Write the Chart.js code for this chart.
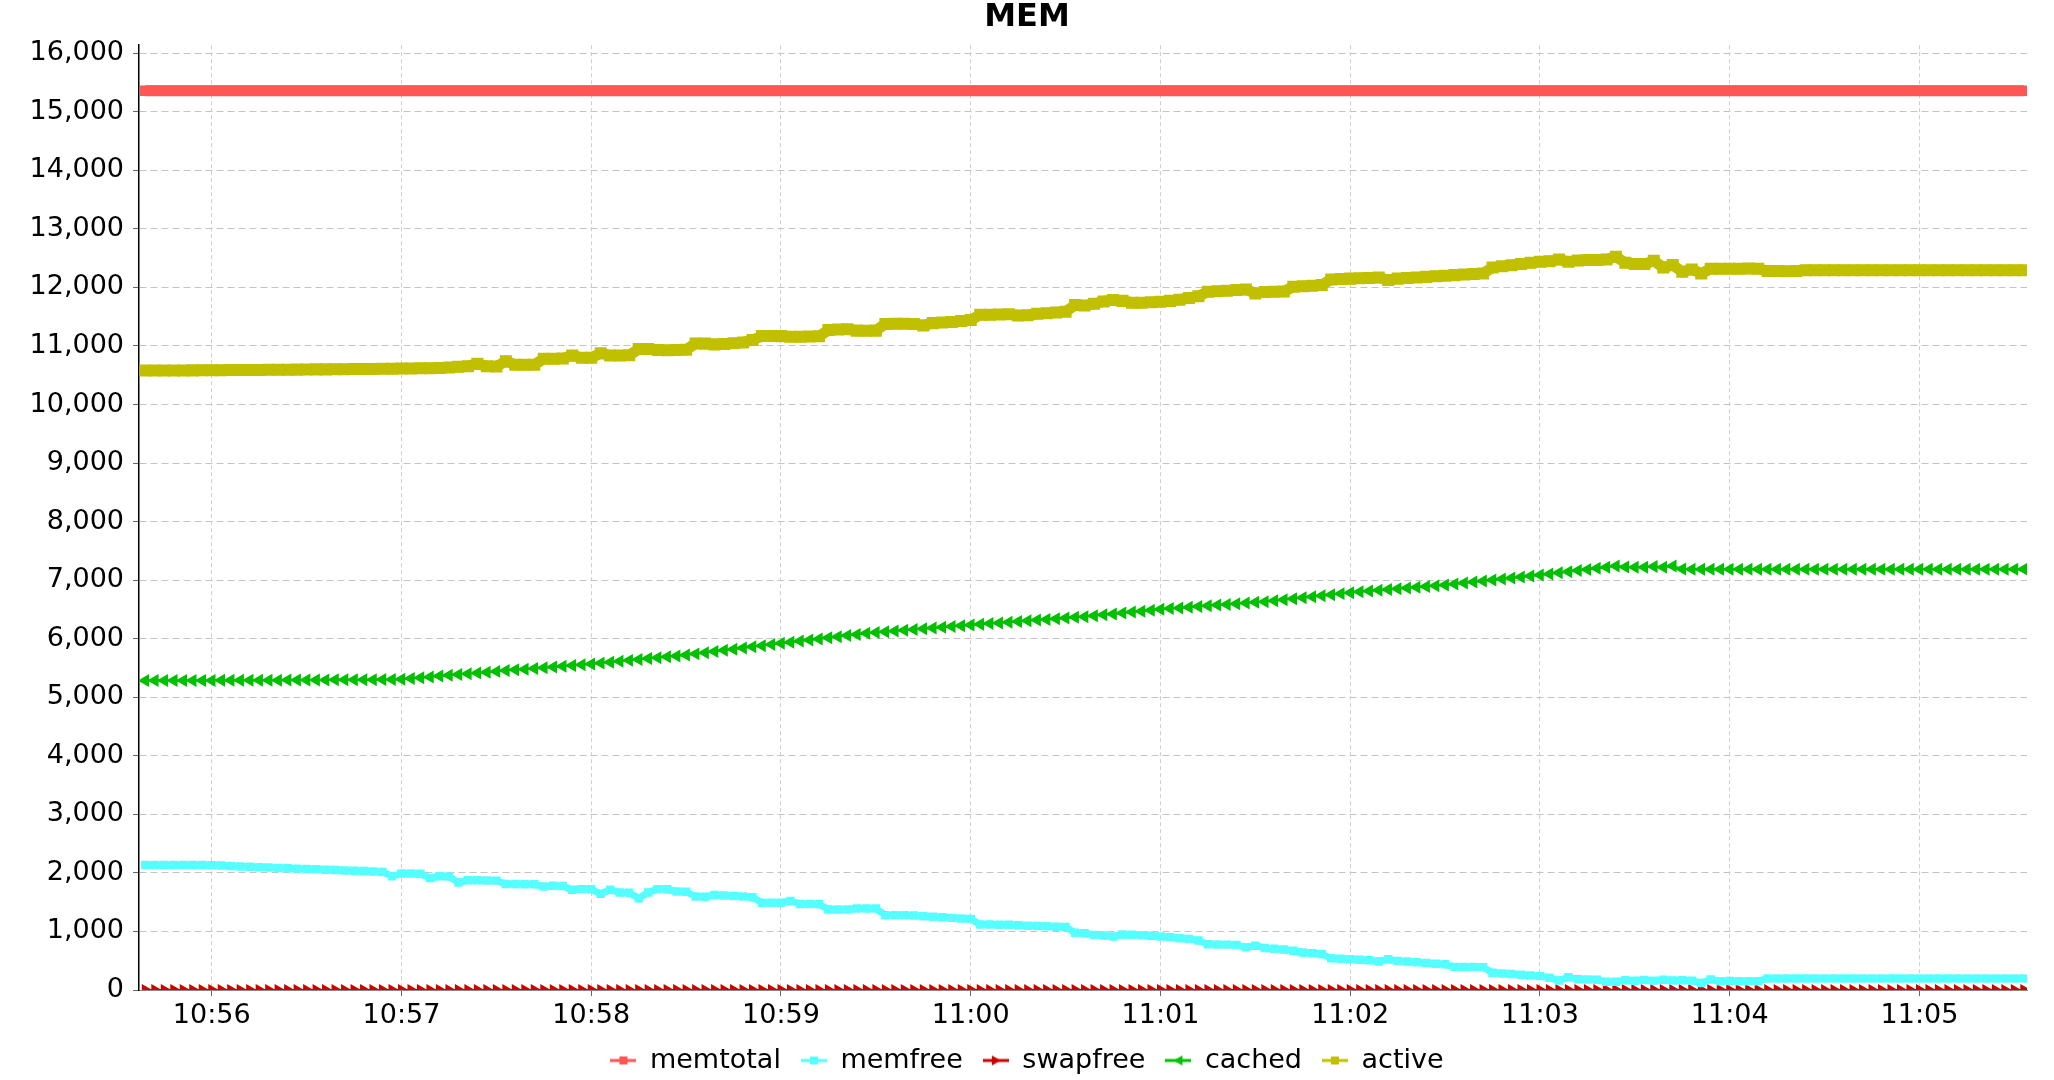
<!DOCTYPE html>
<html>
<head>
<meta charset="utf-8">
<title>MEM</title>
<script src="https://cdn.jsdelivr.net/npm/chart.js@4.4.1/dist/chart.umd.min.js"></script>
<style>
  html, body { margin: 0; padding: 0; background: #fff; }
  #wrap { width: 2054px; height: 1080px; }
</style>
</head>
<body>
<div id="wrap"><canvas id="memChart" width="2054" height="1080"></canvas></div>
<script>
// samples every 3 s starting at 10:55:39
const sampleStart = '10:55:39';
const sampleStep = 3;

const seriesNames = ['memtotal', 'memfree', 'swapfree', 'cached', 'active'];
const xTickLabels = ['10:56', '10:57', '10:58', '10:59', '11:00', '11:01', '11:02', '11:03', '11:04', '11:05'];
const yTickValues = [0, 1000, 2000, 3000, 4000, 5000, 6000, 7000, 8000, 9000, 10000,
  11000, 12000, 13000, 14000, 15000, 16000];

const memtotal = [
  15360,15360,15360,15360,15360,15360,15360,15360,15360,15360,
  15360,15360,15360,15360,15360,15360,15360,15360,15360,15360,
  15360,15360,15360,15360,15360,15360,15360,15360,15360,15360,
  15360,15360,15360,15360,15360,15360,15360,15360,15360,15360,
  15360,15360,15360,15360,15360,15360,15360,15360,15360,15360,
  15360,15360,15360,15360,15360,15360,15360,15360,15360,15360,
  15360,15360,15360,15360,15360,15360,15360,15360,15360,15360,
  15360,15360,15360,15360,15360,15360,15360,15360,15360,15360,
  15360,15360,15360,15360,15360,15360,15360,15360,15360,15360,
  15360,15360,15360,15360,15360,15360,15360,15360,15360,15360,
  15360,15360,15360,15360,15360,15360,15360,15360,15360,15360,
  15360,15360,15360,15360,15360,15360,15360,15360,15360,15360,
  15360,15360,15360,15360,15360,15360,15360,15360,15360,15360,
  15360,15360,15360,15360,15360,15360,15360,15360,15360,15360,
  15360,15360,15360,15360,15360,15360,15360,15360,15360,15360,
  15360,15360,15360,15360,15360,15360,15360,15360,15360,15360,
  15360,15360,15360,15360,15360,15360,15360,15360,15360,15360,
  15360,15360,15360,15360,15360,15360,15360,15360,15360,15360,
  15360,15360,15360,15360,15360,15360,15360,15360,15360,15360,
  15360,15360,15360,15360,15360,15360,15360,15360,15360
];

const memfree = [
  2135,2135,2134,2134,2134,2133,2133,2132,2125,2118,
  2111,2104,2097,2091,2085,2079,2073,2067,2061,2055,
  2049,2043,2037,2031,2024,2017,1942,1988,1988,1985,
  1913,1942,1940,1838,1873,1873,1870,1868,1809,1809,
  1808,1806,1769,1780,1778,1711,1723,1720,1642,1711,
  1665,1662,1566,1665,1723,1720,1682,1680,1595,1592,
  1624,1615,1605,1595,1584,1491,1491,1490,1520,1468,
  1468,1466,1376,1376,1374,1393,1393,1390,1277,1277,
  1275,1274,1260,1250,1241,1232,1223,1214,1120,1118,
  1116,1114,1104,1098,1092,1087,1081,1075,977,970,
  940,931,913,948,945,935,925,915,902,885,
  870,844,780,778,775,770,728,757,717,705,
  690,671,642,628,613,543,535,525,517,509,
  486,526,497,485,474,462,450,439,395,393,
  393,390,295,283,272,260,248,237,208,162,
  220,182,179,176,139,139,165,158,170,160,
  175,162,168,160,121,179,150,152,150,148,
  150,198,198,198,198,198,198,198,198,198,
  198,198,198,198,198,198,198,198,198,198,
  198,198,198,198,198,198,198,198,198
];

const swapfree = [
  0,0,0,0,0,0,0,0,0,0, 0,0,0,0,0,0,0,0,0,0,
  0,0,0,0,0,0,0,0,0,0, 0,0,0,0,0,0,0,0,0,0,
  0,0,0,0,0,0,0,0,0,0, 0,0,0,0,0,0,0,0,0,0,
  0,0,0,0,0,0,0,0,0,0, 0,0,0,0,0,0,0,0,0,0,
  0,0,0,0,0,0,0,0,0,0, 0,0,0,0,0,0,0,0,0,0,
  0,0,0,0,0,0,0,0,0,0, 0,0,0,0,0,0,0,0,0,0,
  0,0,0,0,0,0,0,0,0,0, 0,0,0,0,0,0,0,0,0,0,
  0,0,0,0,0,0,0,0,0,0, 0,0,0,0,0,0,0,0,0,0,
  0,0,0,0,0,0,0,0,0,0, 0,0,0,0,0,0,0,0,0,0,
  0,0,0,0,0,0,0,0,0,0, 0,0,0,0,0,0,0,0,0
];

const cached = [
  5285,5285,5286,5286,5287,5287,5288,5288,5289,5289,
  5290,5290,5291,5292,5292,5293,5294,5294,5295,5296,
  5297,5298,5299,5300,5301,5303,5305,5307,5320,5334,
  5348,5362,5375,5388,5402,5415,5428,5442,5456,5468,
  5480,5493,5505,5518,5530,5543,5556,5568,5583,5598,
  5614,5630,5645,5660,5676,5691,5706,5722,5741,5761,
  5781,5801,5821,5841,5861,5881,5901,5921,5940,5959,
  5978,5997,6016,6035,6054,6073,6092,6105,6118,6131,
  6144,6157,6170,6183,6196,6209,6221,6234,6246,6258,
  6270,6282,6294,6306,6318,6330,6342,6354,6366,6377,
  6393,6408,6424,6440,6455,6471,6486,6502,6514,6526,
  6538,6550,6562,6574,6586,6598,6610,6621,6633,6650,
  6667,6684,6701,6718,6735,6752,6770,6787,6800,6813,
  6826,6839,6852,6865,6878,6891,6904,6918,6935,6952,
  6969,6986,7003,7020,7037,7054,7071,7088,7107,7126,
  7145,7164,7183,7202,7222,7242,7225,7219,7219,7235,
  7219,7242,7190,7188,7188,7188,7188,7188,7188,7188,
  7188,7188,7188,7188,7188,7188,7188,7188,7188,7188,
  7188,7188,7188,7188,7188,7188,7188,7188,7188,7188,
  7188,7188,7188,7188,7188,7188,7188,7188,7188
];

const active = [
  10580,10580,10580,10582,10582,10583,10585,10585,10586,10588,
  10588,10590,10590,10592,10594,10595,10596,10598,10600,10600,
  10602,10603,10605,10606,10608,10610,10612,10614,10615,10618,
  10620,10625,10632,10645,10655,10695,10655,10650,10740,10680,
  10678,10680,10780,10782,10785,10836,10797,10800,10876,10836,
  10836,10840,10947,10950,10930,10928,10932,10935,11044,11040,
  11027,11035,11045,11060,11100,11169,11170,11168,11158,11158,
  11160,11165,11271,11283,11285,11262,11260,11262,11374,11378,
  11380,11375,11351,11390,11400,11410,11425,11442,11533,11535,
  11538,11540,11522,11525,11550,11560,11570,11585,11698,11690,
  11720,11760,11784,11770,11738,11740,11745,11755,11770,11790,
  11820,11850,11926,11935,11945,11955,11966,11898,11920,11926,
  11930,12011,12020,12030,12040,12137,12145,12150,12155,12160,
  12170,12125,12150,12160,12170,12180,12190,12200,12210,12220,
  12230,12239,12340,12360,12380,12400,12420,12438,12445,12478,
  12438,12460,12467,12470,12475,12524,12420,12398,12398,12455,
  12341,12381,12267,12307,12239,12319,12320,12318,12320,12322,
  12320,12279,12280,12278,12280,12295,12295,12295,12295,12295,
  12295,12295,12295,12295,12295,12295,12295,12295,12295,12295,
  12295,12295,12295,12295,12295,12295,12295,12295,12295
];

const seriesColors = ['#ff5555', '#55ffff', '#cc0000', '#00c000', '#c0c000'];

// time helpers: 'hh:mm[:ss]' <-> seconds of the day
function toSec(label) {
  const p = label.split(':').map(Number);
  return p[0] * 3600 + p[1] * 60 + (p[2] || 0);
}
function hhmm(sec) {
  const h = Math.floor(sec / 3600);
  const m = Math.floor((sec % 3600) / 60);
  return String(h).padStart(2, '0') + ':' + String(m).padStart(2, '0');
}

const t0 = toSec(sampleStart);
function toPoints(values) {
  return values.map((v, i) => ({ x: t0 + i * sampleStep, y: v }));
}

// small legend icons: a line with the series shape in the middle
function legendIcon(color, shape) {
  const c = document.createElement('canvas');
  c.width = 26; c.height = 14;
  const g = c.getContext('2d');
  g.strokeStyle = color;
  g.fillStyle = color;
  g.lineWidth = 3;
  g.beginPath(); g.moveTo(0, 7); g.lineTo(26, 7); g.stroke();
  g.beginPath();
  if (shape === 'rect') {
    g.rect(9, 3, 8, 8);
  } else if (shape === 'right') {
    g.moveTo(18, 7); g.lineTo(9, 2); g.lineTo(9, 12);
  } else {
    g.moveTo(8, 7); g.lineTo(17, 2); g.lineTo(17, 12);
  }
  g.fill();
  return c;
}

const icons = [
  legendIcon(seriesColors[0], 'rect'),
  legendIcon(seriesColors[1], 'rect'),
  legendIcon(seriesColors[2], 'right'),
  legendIcon(seriesColors[3], 'left'),
  legendIcon(seriesColors[4], 'rect')
];

const font = 'DejaVu Sans';

const ctx = document.getElementById('memChart').getContext('2d');
const memChart = new Chart(ctx, {
  type: 'line',
  data: {
    datasets: [
      {
        label: seriesNames[0], data: toPoints(memtotal),
        borderColor: seriesColors[0], backgroundColor: seriesColors[0],
        borderWidth: 11, pointStyle: 'rect', pointRadius: 7.5,
        pointBackgroundColor: seriesColors[0], pointBorderWidth: 0
      },
      {
        label: seriesNames[1], data: toPoints(memfree),
        borderColor: seriesColors[1], backgroundColor: seriesColors[1],
        borderWidth: 7, pointStyle: 'rect', pointRadius: 6,
        pointBackgroundColor: seriesColors[1], pointBorderWidth: 0
      },
      {
        label: seriesNames[2], data: toPoints(swapfree),
        borderColor: seriesColors[2], backgroundColor: seriesColors[2],
        borderWidth: 2, pointStyle: 'triangle', pointRotation: 90, pointRadius: 7,
        pointBackgroundColor: seriesColors[2], pointBorderWidth: 0, clip: 0
      },
      {
        label: seriesNames[3], data: toPoints(cached),
        borderColor: seriesColors[3], backgroundColor: seriesColors[3],
        borderWidth: 2, pointStyle: 'triangle', pointRotation: -90, pointRadius: 7.5,
        pointBackgroundColor: seriesColors[3], pointBorderWidth: 0
      },
      {
        label: seriesNames[4], data: toPoints(active),
        borderColor: seriesColors[4], backgroundColor: seriesColors[4],
        borderWidth: 11, pointStyle: 'rect', pointRadius: 8.5,
        pointBackgroundColor: seriesColors[4], pointBorderWidth: 0
      }
    ]
  },
  options: {
    responsive: false,
    animation: false,
    events: [],
    layout: { padding: { left: 27, right: 27, top: 0, bottom: -4 } },
    elements: { line: { tension: 0 } },
    scales: {
      x: {
        type: 'linear',
        min: toSec('10:55:37'),
        max: toSec('11:05:34'),
        afterFit: scale => { scale.height = 37; },
        afterBuildTicks: scale => {
          scale.ticks = xTickLabels.map(t => ({ value: toSec(t) }));
        },
        ticks: {
          maxRotation: 0,
          autoSkip: false,
          padding: 4,
          color: '#000',
          font: { family: font, size: 27 },
          callback: v => hhmm(v)
        },
        grid: {
          color: '#cfcfcf', lineWidth: 1,
          tickLength: 6, tickColor: '#666', tickWidth: 1
        },
        border: { color: '#888', width: 1, dash: [4, 3] }
      },
      y: {
        min: 0,
        max: 16137,
        afterFit: scale => { scale.width = 112; },
        afterBuildTicks: scale => {
          scale.ticks = yTickValues.map(v => ({ value: v }));
        },
        ticks: {
          padding: 9,
          color: '#000',
          font: { family: font, size: 27 },
          callback: v => v.toLocaleString('en-US')
        },
        grid: {
          color: '#c4c4c4', lineWidth: 1,
          tickLength: 6, tickColor: '#666', tickWidth: 1
        },
        border: { color: '#000', width: 1.5, dash: [7, 4] }
      }
    },
    plugins: {
      title: {
        display: true,
        text: 'MEM',
        color: '#000',
        font: { family: font, size: 32, weight: 'bold', lineHeight: 1.1 },
        padding: { top: 0, bottom: 10 }
      },
      legend: {
        position: 'bottom',
        labels: {
          usePointStyle: true,
          pointStyleWidth: 26,
          padding: 20,
          color: '#000',
          font: { family: font, size: 27 },
          generateLabels: chart => chart.data.datasets.map((ds, i) => ({
            text: ds.label,
            pointStyle: icons[i],
            fillStyle: ds.borderColor,
            strokeStyle: ds.borderColor,
            lineWidth: 0,
            hidden: false,
            datasetIndex: i,
            fontColor: '#000'
          }))
        }
      },
      tooltip: { enabled: false }
    }
  }
});
</script>
</body>
</html>
